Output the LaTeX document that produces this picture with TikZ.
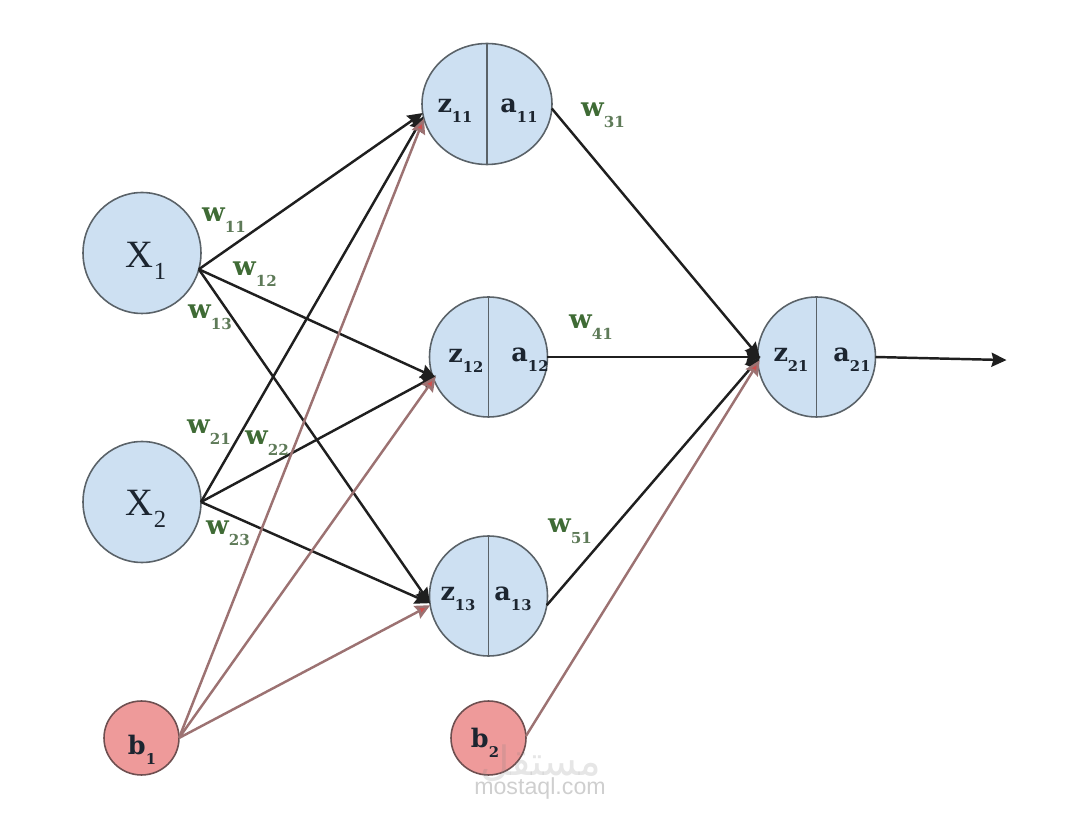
\documentclass[tikz,border=0pt]{standalone}
\usepackage{fontspec}
\usetikzlibrary{arrows.meta,shapes.geometric}
\setmainfont{DejaVu Serif}
\newfontfamily\xfont{Liberation Serif}
\newfontfamily\arabicfont[Script=Arabic]{DejaVu Sans}
\newfontfamily\wmfont{Liberation Sans}
\TeXXeTstate=1
\definecolor{nodeblue}{HTML}{CDE0F2}
\definecolor{nodepink}{HTML}{EE9A9A}
\definecolor{rimgray}{HTML}{5A6268}
\definecolor{rimbrown}{HTML}{6E4F50}
\definecolor{biasline}{HTML}{9C7272}
\definecolor{wgreen}{HTML}{3F6B35}
\definecolor{wsub}{HTML}{5E7A58}
\definecolor{inktext}{HTML}{1C2530}
\newcommand{\wlab}[2]{{\fontsize{15pt}{15pt}\selectfont\bfseries\textcolor{wgreen}{#1}\raisebox{-0.42em}{\fontsize{8.6pt}{10pt}\selectfont\textcolor{wsub}{#2}}}}
\newcommand{\clab}[2]{{\fontsize{14.5pt}{15pt}\selectfont\bfseries #1\raisebox{-0.4em}{\fontsize{8.4pt}{10pt}\selectfont #2}}}
\newcommand{\xlab}[2]{{\xfont\fontsize{22pt}{23pt}\selectfont #1\raisebox{-0.32em}{\fontsize{14pt}{15pt}\selectfont #2}}}
\tikzset{
  neuron/.style={ellipse,draw=rimgray,fill=nodeblue,line width=0.9pt,inner sep=0pt,outer sep=0pt},
  bias/.style={ellipse,draw=rimbrown,fill=nodepink,line width=0.9pt,inner sep=0pt,outer sep=0pt,minimum width=1.5cm,minimum height=1.48cm},
  big/.style={minimum width=2.36cm,minimum height=2.4cm},
  wide/.style={minimum width=2.6cm,minimum height=2.42cm},
  inp/.style={minimum width=2.36cm,minimum height=2.42cm},
  divider/.style={draw=rimgray,line width=0.9pt},
  conn/.style={line width=1.4pt,draw=black!88,-{Stealth[length=8.5pt,width=8pt,inset=1pt]},shorten >=-2pt},
  biasconn/.style={line width=1.4pt,draw=biasline,-{Stealth[length=8.5pt,width=8pt,inset=1pt,fill=nodepink!60!red!85!black]},shorten >=-2pt},
  noover/.style={shorten >=0pt},
  wlabel/.style={inner sep=0pt},
  clabel/.style={inner sep=0pt,text=inktext},
}
\begin{document}
\begin{tikzpicture}[x=0.02cm,y=-0.02cm]
\useasboundingbox (0,0) rectangle (1080,817);
% nodes
\node[neuron,inp] (X1) at (142,253) {};
\node[neuron,inp] (X2) at (142,502) {};
\node[bias] (b1) at (141.5,738) {};
\node[bias] (b2) at (488.5,738) {};
\node[neuron,wide] (n11) at (487,104) {};
\node[neuron,big] (n12) at (488.5,357) {};
\node[neuron,big] (n13) at (488.5,596) {};
\node[neuron,big] (n21) at (816.5,357) {};
\coordinate (out) at (1003,360);
% dividers
\draw[divider] (n11.north) -- (n11.south);
\draw[divider] (n12.north) -- (n12.south);
\draw[divider] (n13.north) -- (n13.south);
\draw[divider] (n21.north) -- (n21.south);
% connectors
\draw[conn,noover] (X1.-16) -- (n11.188);
\draw[conn] (X1.-16) -- (n12.199);
\draw[conn,noover] (X1.-16) -- (n13.187);
\draw[conn,noover] (X2.0) -- (n11.191);
\draw[conn] (X2.0) -- (n12.200);
\draw[conn,noover] (X2.0) -- (n13.187);
\draw[conn] (n11.-4) -- (n21.178);
\draw[conn] (n12.0) -- (n21.180);
\draw[conn] (n13.-9) -- (n21.183);
\draw[conn] (n21.0) -- (out);
% bias connectors
\draw[biasconn,noover] (b1.0) -- (n11.193);
\draw[biasconn] (b1.0) -- (n12.202);
\draw[biasconn,noover] (b1.0) -- (n13.189);
\draw[biasconn] (b2.3) -- (n21.186);
% node texts
\node[clabel] (tx1) at (146,261) {\xlab{X}{1}};
\node[clabel] (tx2) at (146,509) {\xlab{X}{2}};
\node[clabel] (tb1) at (142,750) {\clab{b}{1}};
\node[clabel] (tb2) at (485,743) {\clab{b}{2}};
\node[clabel] (tz11) at (455,111) {\clab{z}{11}};
\node[clabel] (ta11) at (519,111) {\clab{a}{11}};
\node[clabel] (tz12) at (466,361) {\clab{z}{12}};
\node[clabel] (ta12) at (530,360) {\clab{a}{12}};
\node[clabel] (tz13) at (458,599) {\clab{z}{13}};
\node[clabel] (ta13) at (513,599) {\clab{a}{13}};
\node[clabel] (tz21) at (791,360) {\clab{z}{21}};
\node[clabel] (ta21) at (852,360) {\clab{a}{21}};
% weights
\node[wlabel] (w11) at (224,220) {\wlab{w}{11}};
\node[wlabel] (w12) at (255,274) {\wlab{w}{12}};
\node[wlabel] (w13) at (210,317) {\wlab{w}{13}};
\node[wlabel] (w21) at (209,432) {\wlab{w}{21}};
\node[wlabel] (w22) at (267,443) {\wlab{w}{22}};
\node[wlabel] (w23) at (228,533) {\wlab{w}{23}};
\node[wlabel] (w31) at (603,115) {\wlab{w}{31}};
\node[wlabel] (w41) at (591,327) {\wlab{w}{41}};
\node[wlabel] (w51) at (570,531) {\wlab{w}{51}};
% watermark
\node[inner sep=0pt,opacity=0.2,text=gray] (wm1) at (541,763) {\arabicfont\fontsize{23pt}{24pt}\selectfont\beginR مستقل\endR};
\node[inner sep=0pt,opacity=0.38,text=gray] (wm2) at (540,789) {\wmfont\fontsize{13.2pt}{14pt}\selectfont mostaql.com};
\end{tikzpicture}
\end{document}
